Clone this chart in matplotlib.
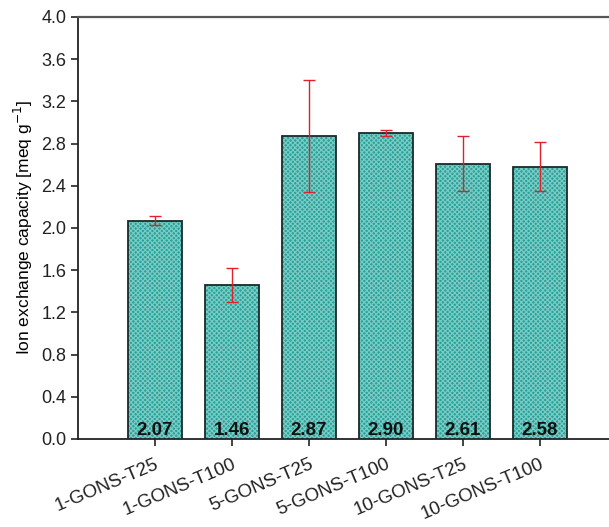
import matplotlib
matplotlib.use("Agg")
import matplotlib.pyplot as plt
import matplotlib.transforms as mtransforms
import numpy as np

categories = ["1-GONS-T25", "1-GONS-T100", "5-GONS-T25", "5-GONS-T100", "10-GONS-T25", "10-GONS-T100"]
values = [2.07, 1.46, 2.87, 2.90, 2.61, 2.58]
err_upper = [2.11, 1.62, 3.40, 2.93, 2.87, 2.81]
err_lower = [2.03, 1.30, 2.34, 2.87, 2.35, 2.35]
yticks = [0.0, 0.4, 0.8, 1.2, 1.6, 2.0, 2.4, 2.8, 3.2, 3.6, 4.0]

plt.rcParams['font.family'] = ['Liberation Sans', 'DejaVu Sans']
plt.rcParams['hatch.linewidth'] = 0.9

fig = plt.figure(figsize=(6.09, 5.27), dpi=100)
ax = fig.add_axes([0.128, 0.167, 0.872, 0.801])

x = np.arange(len(categories))
vals = np.array(values)
up = np.array(err_upper) - vals
lo = vals - np.array(err_lower)

ax.bar(x, vals, width=0.7, color='#27a097', edgecolor='none', zorder=2)
ax.bar(x, vals, width=0.7, color='none', edgecolor='#78cbc4', hatch='xxxxxxx', linewidth=0, zorder=3)
ax.bar(x, vals, width=0.7, color='none', edgecolor='#1a2a2a', linewidth=1.3, zorder=4)
ax.errorbar(x, vals, yerr=[lo, up], fmt='none', ecolor='#e0202a', elinewidth=1.0,
            capsize=4.5, capthick=1.0, zorder=5)

for xi, v in zip(x, vals):
    ax.text(xi, 0.0, f"{v:.2f}", ha='center', va='bottom', fontsize=13.5,
            fontweight='bold', color='#111111', zorder=6)

ax.set_xlim(-1.0, 5.9)
ax.set_ylim(0, 4.0)
ax.set_yticks(yticks)
ax.set_yticklabels([f"{t:.1f}" for t in yticks], fontsize=13)
ax.set_xticks(x)
ax.set_xticklabels(categories, rotation=23, ha='right', rotation_mode='anchor', fontsize=13.5)
offset = mtransforms.ScaledTranslation(7 / 100, 0, fig.dpi_scale_trans)
for lab in ax.get_xticklabels():
    lab.set_transform(lab.get_transform() + offset)
ax.set_ylabel("Ion exchange capacity [meq g$^{-1}$]", fontsize=12.5)

ax.spines['right'].set_visible(False)
for s in ['left', 'bottom']:
    ax.spines[s].set_linewidth(1.3)
    ax.spines[s].set_color('#222222')
ax.spines['top'].set_linewidth(1.6)
ax.spines['top'].set_color('#555555')
ax.tick_params(axis='both', direction='out', length=5, width=1.2, colors='#222222')
ax.tick_params(axis='x', pad=7)

fig.savefig("out.png", dpi=100)
